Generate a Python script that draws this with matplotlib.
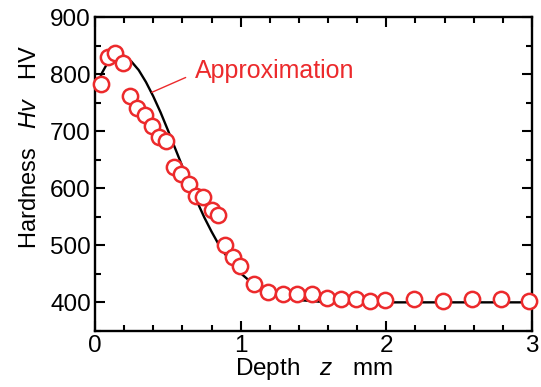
import matplotlib
matplotlib.use('Agg')
import matplotlib.pyplot as plt
from matplotlib.ticker import MultipleLocator

plt.rcParams['font.family'] = ['Liberation Sans', 'DejaVu Sans']
plt.rcParams['mathtext.fontset'] = 'custom'
plt.rcParams['mathtext.rm'] = 'Liberation Sans'
plt.rcParams['mathtext.it'] = 'Liberation Sans:italic'

# measured hardness
depth = [0.04, 0.09, 0.14, 0.19, 0.24, 0.29, 0.34, 0.39, 0.44, 0.49,
         0.54, 0.59, 0.645, 0.69, 0.74, 0.80, 0.845, 0.89, 0.95, 0.995,
         1.09, 1.19, 1.29, 1.39, 1.49, 1.59, 1.69, 1.79, 1.89, 1.99,
         2.19, 2.39, 2.59, 2.79, 2.98]
hv = [783, 830, 837, 819, 761, 740, 728, 709, 689, 682,
      638, 625, 607, 586, 584, 561, 553, 500, 479, 463,
      432, 418, 414, 415, 414, 407, 405, 405, 402, 404,
      405, 402, 405, 405, 402]

# approximation curve
z_fit = [0.0, 0.05, 0.1, 0.15, 0.2, 0.25, 0.3, 0.35, 0.4, 0.45, 0.5,
         0.55, 0.6, 0.65, 0.7, 0.75, 0.8, 0.85, 0.9, 0.95, 1.0, 1.05,
         1.1, 1.15, 1.2, 1.3, 1.4, 1.5, 1.6, 3.0]
hv_fit = [772, 803, 826, 835, 832, 822, 807, 786, 761, 733, 702,
          670, 638, 607, 577, 549, 524, 501, 482, 465, 451, 440,
          430, 422, 416, 409, 404, 402, 400, 400]

red = '#ec2a2c'
fs = 17.5

fig = plt.figure(figsize=(5.41, 3.87), dpi=100)
ax = fig.add_axes([0.1756, 0.145, 0.8078, 0.811])

ax.plot(z_fit, hv_fit, color='black', lw=1.7, zorder=2)
ax.plot(depth, hv, 'o', ms=11, mfc='white', mec=red, mew=1.8,
        zorder=3, clip_on=False)

ax.annotate('Approximation', xy=(0.39, 768), xytext=(0.685, 793),
            color=red, fontsize=18, va='baseline', ha='left',
            arrowprops=dict(arrowstyle='-', color=red, lw=1.0,
                            relpos=(0, 0.4), shrinkA=5, shrinkB=0))

ax.set_xlim(0, 3)
ax.set_ylim(350, 900)
ax.xaxis.set_major_locator(MultipleLocator(1))
ax.xaxis.set_minor_locator(MultipleLocator(0.2))
ax.yaxis.set_minor_locator(MultipleLocator(50))
ax.set_yticks([400, 500, 600, 700, 800, 900])
ax.tick_params(which='both', direction='in', top=True, right=True,
               width=1.5, labelsize=fs, pad=3)
ax.tick_params(which='major', length=7)
ax.tick_params(which='minor', length=4)
for s in ax.spines.values():
    s.set_linewidth(1.7)

ax.set_xlabel('Depth   $z$   mm', fontsize=fs, labelpad=-1)
ax.set_ylabel('Hardness   $Hv$   HV', fontsize=17)
ax.yaxis.set_label_coords(-0.124, 0.585)

fig.savefig('out.png', dpi=100)
